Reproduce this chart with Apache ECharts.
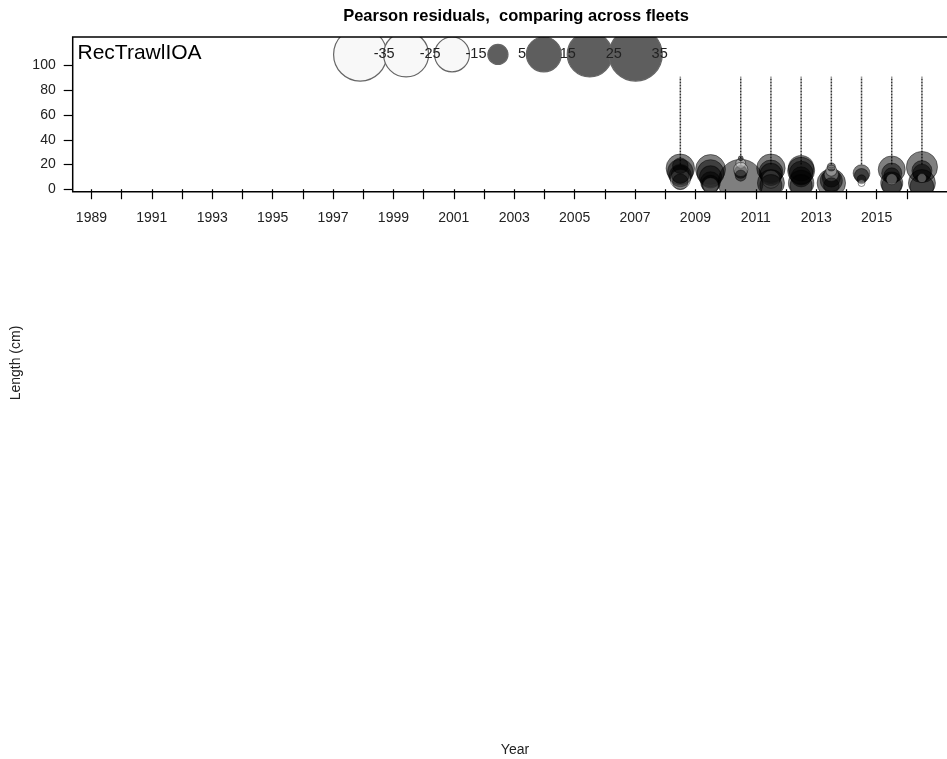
<!DOCTYPE html>
<html>
<head>
<meta charset="utf-8">
<script src="https://cdn.jsdelivr.net/npm/echarts@6/dist/echarts.min.js"></script>
<style>
html,body{margin:0;padding:0;background:#fff;}
#chart{width:947px;height:759px;}
</style>
</head>
<body>
<div id="chart"></div>
<script>
// ---------- data ----------
const chartTitle = 'Pearson residuals,  comparing across fleets';
const fleetName = 'RecTrawlIOA';
const xAxisName = 'Year';
const yAxisName = 'Length (cm)';
const xTickYears = [1989,1990,1991,1992,1993,1994,1995,1996,1997,1998,1999,2000,2001,2002,2003,2004,2005,2006,2007,2008,2009,2010,2011,2012,2013,2014,2015,2016];
const xLabelYears = [1989,1991,1993,1995,1997,1999,2001,2003,2005,2007,2009,2011,2013,2015];
const yTickValues = [0,20,40,60,80,100];
const legendValues = [-35,-25,-15,5,15,25,35];
// columns of tiny residuals (drawn as dotted stems)
const stemYears = [2008.5,2010.5,2011.5,2012.5,2013.5,2014.5,2015.5,2016.5];
const stemBottom = [20,20,20,20,20,20,20,20];
const stemTop = [91,91,91,91,91,91,91,91];
// bubbles
const bubbleYear = [
  2008.5,2008.5,2008.5,2008.5,2008.5,2008.5,2008.5,
  2009.5,2009.5,2009.5,2009.5,2009.5,2009.5,
  2010.5,2010.5,2010.5,2010.5,2010.5,2010.5,
  2011.5,2011.5,2011.5,2011.5,2011.5,2011.5,
  2012.5,2012.5,2012.5,2012.5,2012.5,2012.5,
  2013.5,2013.5,2013.5,2013.5,2013.5,2013.5,2013.5,
  2014.5,2014.5,2014.5,2014.5,
  2015.5,2015.5,2015.5,2015.5,2015.5,2015.5,
  2016.5,2016.5,2016.5,2016.5,2016.5,2016.5
];
const bubbleLength = [
  17,14,11,8,6,19,12,
  16,13,10,6,3,4,
  6,14,21,16,11,25,
  17,14,12,8,5,3,
  17,15,13,10,5,3,
  5,7,9,12,15,18,3,
  13,11,8,5,
  16,13,11,5,3,8,
  18,15,13,5,2,9
];
const bubbleResid = [
  10,8,6,-5,3,3,4,
  11,9,6,5,-3,4,
  25,2,-1.2,-2.5,1.5,0.3,
  10,7,6,-4,9,6,
  8,9,7,5,8,6,
  10,6,4,-2.5,-1.5,0.8,3,
  3.5,2.5,1,-0.6,
  9,5,3,6,5,-1.5,
  12,5,4,9,7,-1
];

// ---------- layout / style ----------
const POS_FILL = 'rgba(0,0,0,0.5)';
const NEG_FILL = 'rgba(255,255,255,0.3)';
const EDGE = 'rgba(0,0,0,0.45)';
const legendStartYear = 1997.9, legendStep = 1.52, legendLen = 109;
const sizeOf = v => 9 * Math.sqrt(Math.abs(v));
const FONT = 'Liberation Sans, Arial, Helvetica, sans-serif';
const G = { left: 72.7, top: 37, width: 877.3, height: 154.7 };

const bubbleData = bubbleYear.map((y, i) => [y, bubbleLength[i], bubbleResid[i]]);
const legendData = legendValues.map((v, i) => [legendStartYear + i * legendStep, legendLen, v]);

const stemSeries = stemYears.map((y, i) => ({
  type: 'line',
  data: [[y, stemBottom[i]], [y, stemTop[i]]],
  symbol: 'none',
  silent: true,
  z: 1,
  lineStyle: { color: '#333', width: 1.5, type: [2, 1] }
}));

const chart = echarts.init(document.getElementById('chart'), null, { renderer: 'canvas' });
chart.setOption({
  animation: false,
  backgroundColor: '#fff',
  title: {
    text: chartTitle, z: 40,
    left: 511, top: 3, textAlign: 'center',
    textStyle: { fontFamily: FONT, fontSize: 16.5, fontWeight: 'bold', color: '#000' }
  },
  grid: { left: G.left, top: G.top, width: G.width, height: G.height, show: false },
  xAxis: {
    type: 'value', min: 1988.38, max: 2017.33, z: 30,
    axisLine: { show: false },
    splitLine: { show: false },
    axisTick: { show: true, length: 10, lineStyle: { color: '#000', width: 1.2 }, customValues: xTickYears },
    axisLabel: { customValues: xLabelYears, margin: 19, fontFamily: FONT, fontSize: 14, color: '#222', formatter: v => String(v) }
  },
  yAxis: {
    type: 'value', min: -2, max: 123.1, z: 30,
    axisLine: { show: false },
    splitLine: { show: false },
    axisTick: { show: true, length: 9, lineStyle: { color: '#000', width: 1.2 }, customValues: yTickValues },
    axisLabel: { customValues: yTickValues, margin: 17, fontFamily: FONT, fontSize: 14, color: '#222', formatter: v => String(v) }
  },
  graphic: [
    // masks that clip bubbles to the plot box
    { type: 'rect', z: 20, silent: true, shape: { x: 0, y: 0, width: 947, height: G.top }, style: { fill: '#fff' } },
    { type: 'rect', z: 20, silent: true, shape: { x: 0, y: G.top + G.height, width: 947, height: 20 }, style: { fill: '#fff' } },
    // plot box
    { type: 'rect', z: 25, silent: true, shape: { x: G.left, y: G.top, width: G.width, height: G.height }, style: { fill: 'none', stroke: '#000', lineWidth: 1.5 } },
    { type: 'text', z: 25, left: 77.5, top: 43, style: { text: fleetName, font: '21px ' + FONT, fill: '#000' } },
    { type: 'text', z: 25, x: 16, y: 363, rotation: Math.PI / 2, style: { text: yAxisName, font: '14px ' + FONT, fill: '#222', align: 'center', verticalAlign: 'middle' } },
    { type: 'text', z: 25, x: 515, y: 750, style: { text: xAxisName, font: '14px ' + FONT, fill: '#222', align: 'center', verticalAlign: 'middle' } }
  ],
  series: stemSeries.concat([
    {
      type: 'scatter', name: 'residuals', data: bubbleData, z: 3, silent: true,
      symbolSize: d => sizeOf(d[2]),
      itemStyle: {
        color: p => (p.value[2] > 0 ? POS_FILL : NEG_FILL),
        borderColor: EDGE, borderWidth: 1, opacity: 1
      }
    },
    {
      type: 'scatter', name: 'legend', data: legendData, z: 4, silent: true,
      symbolSize: d => sizeOf(d[2]),
      itemStyle: {
        color: p => (p.value[2] > 0 ? '#5e5e5e' : '#f8f8f8'),
        borderColor: '#666', borderWidth: 1.2, opacity: 1
      },
      label: {
        show: true, position: 'inside', offset: [24, 0],
        formatter: p => String(p.value[2]),
        fontFamily: FONT, fontSize: 14.5, color: '#222'
      }
    }
  ])
});
</script>
</body>
</html>
